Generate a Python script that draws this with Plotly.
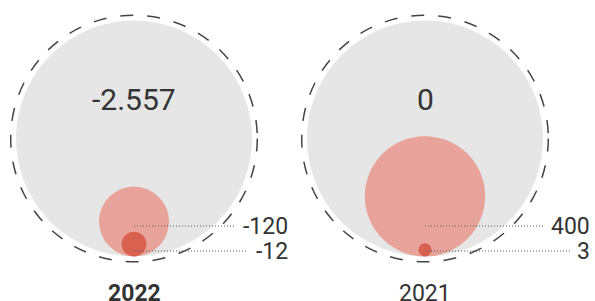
import plotly.graph_objects as go

# ---- data ----
years = ["2022", "2021"]
year_bold = [True, False]
total_labels = ["-2.557", "0"]
total_values = [-2557, 0]
outer_values = [-120, 400]
inner_values = [-12, 3]
outer_labels = ["-120", "400"]
inner_labels = ["-12", "3"]

# ---- layout constants (pixel-like coordinates) ----
W, H = 595, 301
centers_x = [134, 425]
label_right = [290, 592]
grey_cy, grey_r, dash_r = 138.5, 118, 123.3
base_y = grey_cy + grey_r
row_y = [226, 251]  # outer row, inner row
GREY = "#e6e6e6"
PINK = "#e8a49b"
DARK = "#d9614f"
TEXT = "#333333"
FONT = "Roboto"
LABEL_SIZE = 23


def radius(v):
    return 4.06 * abs(v) ** 0.45


def text_width(s, size=LABEL_SIZE):
    return sum(0.33 * size if c == "-" else 0.562 * size for c in s)


fig = go.Figure()
fig.add_trace(go.Scatter(x=[0, W], y=[0, H], mode="markers",
                         marker=dict(opacity=0), hoverinfo="skip", showlegend=False))

shapes = []
annotations = []
for i, cx in enumerate(centers_x):
    shapes.append(dict(type="circle", xref="x", yref="y",
                       x0=cx - grey_r, x1=cx + grey_r,
                       y0=grey_cy - grey_r, y1=grey_cy + grey_r,
                       fillcolor=GREY, line=dict(width=0), layer="below"))
    shapes.append(dict(type="circle", xref="x", yref="y",
                       x0=cx - dash_r, x1=cx + dash_r,
                       y0=grey_cy - dash_r, y1=grey_cy + dash_r,
                       fillcolor="rgba(0,0,0,0)",
                       line=dict(color="#444444", width=1.5, dash="13px,14px")))
    for v, col in ((outer_values[i], PINK), (inner_values[i], DARK)):
        r = radius(v)
        shapes.append(dict(type="circle", xref="x", yref="y",
                           x0=cx - r, x1=cx + r,
                           y0=base_y - 2 * r, y1=base_y,
                           fillcolor=col, line=dict(width=0)))
    for lab, ry in ((outer_labels[i], row_y[0]), (inner_labels[i], row_y[1])):
        x_end = label_right[i] - text_width(lab) - 9
        shapes.append(dict(type="line", xref="x", yref="y",
                           x0=cx, x1=x_end, y0=ry, y1=ry,
                           line=dict(color="#555555", width=1, dash="1px,2px")))
        annotations.append(dict(x=label_right[i], y=ry, xref="x", yref="y",
                                text=lab, showarrow=False, xanchor="right",
                                yanchor="middle",
                                font=dict(family=FONT, size=LABEL_SIZE, color=TEXT)))
    annotations.append(dict(x=cx, y=99, xref="x", yref="y",
                            text=total_labels[i], showarrow=False,
                            xanchor="center", yanchor="middle",
                            font=dict(family=FONT, size=30, color=TEXT)))
    yt = f"<b>{years[i]}</b>" if year_bold[i] else years[i]
    annotations.append(dict(x=cx, y=293, xref="x", yref="y",
                            text=yt, showarrow=False,
                            xanchor="center", yanchor="middle",
                            font=dict(family=FONT, size=23, color=TEXT)))

fig.update_layout(
    width=W, height=H,
    margin=dict(l=0, r=0, t=0, b=0),
    paper_bgcolor="white", plot_bgcolor="white",
    xaxis=dict(range=[0, W], visible=False, fixedrange=True),
    yaxis=dict(range=[H, 0], visible=False, fixedrange=True),
    shapes=shapes, annotations=annotations, showlegend=False,
)
fig.write_html("out.html", config={"displayModeBar": False},
               post_script="document.body.style.margin='0';document.body.style.overflow='hidden';")
